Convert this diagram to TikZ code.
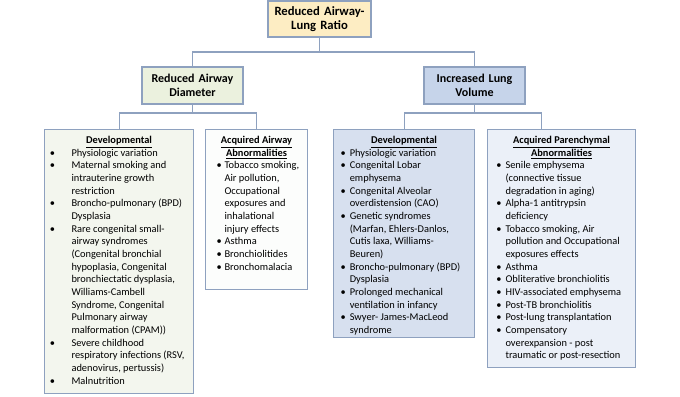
\documentclass[tikz,border=0pt]{standalone}
\usepackage{fontspec}
\setmainfont{Carlito}
\usepackage{enumitem}
\usetikzlibrary{calc}
\setlist[itemize]{nosep,label=\textbullet}
\definecolor{boxLine}{HTML}{8EA1BF}
\definecolor{rootFill}{HTML}{FDEDC3}
\definecolor{airFill}{HTML}{EBF1DE}
\definecolor{airDevFill}{HTML}{F3F6EE}
\definecolor{airAcqFill}{HTML}{FCFDFC}
\definecolor{lungFill}{HTML}{C6D4EA}
\definecolor{lungDevFill}{HTML}{D7E0EF}
\definecolor{lungAcqFill}{HTML}{EBF0F8}
\newcommand{\cattitle}[1]{\underline{\textbf{#1}}}
\newcommand{\catbody}[3]{\begin{minipage}[t][#2][t]{#1}\raggedright #3\end{minipage}}

\begin{document}
\begin{tikzpicture}[x=0.75pt,y=-0.75pt,
  font=\fontsize{7.8}{9.5}\selectfont,
  box/.style={draw=boxLine, line width=0.8pt, inner sep=0pt},
  head/.style={box, align=center, font=\bfseries\fontsize{9}{10.7}\selectfont,
    minimum height=27.75pt, text width=75.75pt},
  catbox/.style={box, anchor=north west, inner xsep=3pt, inner ysep=5pt},
  conn/.style={draw=boxLine, line width=0.8pt}]
  \useasboundingbox (0,0) rectangle (680,396);

  % top level
  \node[head, fill=rootFill, text width=77.25pt, minimum height=27pt,
    font=\bfseries\fontsize{9.5}{10.3}\selectfont] (root) at (319.5,19) {Reduced Airway-\\Lung Ratio};
  \node[head, fill=airFill] (airway) at (192.5,85.5) {Reduced Airway\\Diameter};
  \node[head, fill=lungFill] (lung) at (474.5,85.5) {Increased Lung\\Volume};

  % categories under reduced airway diameter
  \node[catbox, fill=airDevFill] (airdev) at (44,129) {\catbody{105.75pt}{188pt}{%
    {\centering\cattitle{Developmental}\par}
    \begin{itemize}[leftmargin=17.25pt,labelsep=12.3pt]
      \item Physiologic variation
      \item Maternal smoking and\newline intrauterine growth\newline restriction
      \item Broncho-pulmonary (BPD)\newline Dysplasia
      \item Rare congenital small-\newline airway syndromes\newline (Congenital bronchial\newline hypoplasia, Congenital\newline bronchiectatic dysplasia,\newline Williams-Cambell\newline Syndrome, Congenital\newline Pulmonary airway\newline malformation (CPAM))
      \item Severe childhood\newline respiratory infections (RSV,\newline adenovirus, pertussis)
      \item Malnutrition
    \end{itemize}}};
  \node[catbox, fill=airAcqFill] (airacq) at (205,129) {\catbody{70.5pt}{110pt}{%
    {\centering\cattitle{Acquired Airway}\\\cattitle{Abnormalities}\par}
    \begin{itemize}[leftmargin=11.25pt,labelsep=2pt]
      \item Tobacco smoking,\newline Air pollution,\newline Occupational\newline exposures and\newline inhalational\newline injury effects
      \item Asthma
      \item Bronchiolitides
      \item Bronchomalacia
    \end{itemize}}};

  % categories under increased lung volume
  \node[catbox, fill=lungDevFill] (lungdev) at (333,129) {\catbody{99.75pt}{146pt}{%
    {\centering\cattitle{Developmental}\par}
    \begin{itemize}[leftmargin=9.2pt,labelsep=3pt]
      \item Physiologic variation
      \item Congenital Lobar\newline emphysema
      \item Congenital Alveolar\newline overdistension (CAO)
      \item Genetic syndromes\newline (Marfan, Ehlers-Danlos,\newline Cutis laxa, Williams-\newline Beuren)
      \item Broncho-pulmonary (BPD)\newline Dysplasia
      \item Prolonged mechanical\newline ventilation in infancy
      \item Swyer- James-MacLeod\newline syndrome
    \end{itemize}}};
  \node[catbox, fill=lungAcqFill] (lungacq) at (487,129) {\catbody{105pt}{168.5pt}{%
    {\centering\cattitle{Acquired Parenchymal}\\\cattitle{Abnormalities}\par}
    \begin{itemize}[leftmargin=10.5pt,labelsep=3pt]
      \item Senile emphysema\newline (connective tissue\newline degradation in aging)
      \item Alpha-1 antitrypsin\newline deficiency
      \item Tobacco smoking, Air\newline pollution and Occupational\newline exposures effects
      \item Asthma
      \item Obliterative bronchiolitis
      \item HIV-associated emphysema
      \item Post-TB bronchiolitis
      \item Post-lung transplantation
      \item Compensatory\newline overexpansion - post\newline traumatic or post-resection
    \end{itemize}}};

  % connectors
  \coordinate (bus1) at (320,52);
  \coordinate (airbus) at (193,113);
  \coordinate (lungbus) at (478,113);
  \coordinate (lungacqtop) at ($(lungacq.north west)!0.365!(lungacq.north east)$);
  \draw[conn] (root.south) -- (root.south |- bus1);
  \draw[conn] (airway.north) |- (bus1) -| (lung.north);
  \draw[conn] (airway.south) -- (airway.south |- airbus);
  \draw[conn] (airdev.north) |- (airbus) -| (airacq.north);
  \draw[conn] (lung.south) -- (lung.south |- lungbus);
  \draw[conn] (lungdev.north) |- (lungbus) -| (lungacqtop);
\end{tikzpicture}
\end{document}
